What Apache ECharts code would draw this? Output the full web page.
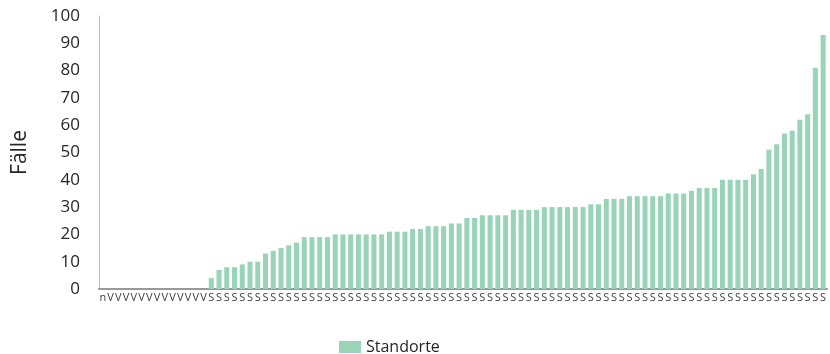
<!DOCTYPE html>
<html>
<head>
<meta charset="utf-8">
<script src="https://cdn.jsdelivr.net/npm/echarts@6/dist/echarts.min.js"></script>
<style>
  html, body { margin: 0; padding: 0; background: #fff; }
  #chart { width: 830px; height: 354px; }
</style>
</head>
<body>
<div id="chart"></div>
<script>
// Kategorien (gekürzte Beschriftungen)
var categories = [
  'n','V','V','V','V','V','V','V','V','V','V','V','V','V',
  'S','S','S','S','S','S','S','S','S','S','S','S','S','S','S','S','S','S','S','S',
  'S','S','S','S','S','S','S','S','S','S','S','S','S','S','S','S','S','S','S','S',
  'S','S','S','S','S','S','S','S','S','S','S','S','S','S','S','S','S','S','S','S',
  'S','S','S','S','S','S','S','S','S','S','S','S','S','S','S','S','S','S','S','S'
];

// Fälle je Standort ('-' = kein Wert)
var faelle = [
  '-','-','-','-','-','-','-','-','-','-','-','-','-','-',
  4, 7, 8, 8, 9, 10, 10, 13, 14, 15, 16, 17, 19, 19, 19, 19, 20, 20, 20, 20,
  20, 20, 20, 21, 21, 21, 22, 22, 23, 23, 23, 24, 24, 26, 26, 27, 27, 27, 27, 29,
  29, 29, 29, 30, 30, 30, 30, 30, 30, 31, 31, 33, 33, 33, 34, 34, 34, 34, 34, 35,
  35, 35, 36, 37, 37, 37, 40, 40, 40, 40, 42, 44, 51, 53, 57, 58, 62, 64, 81, 93
];

var yTicks = { min: 0, max: 100, interval: 10 };

var chart = echarts.init(document.getElementById('chart'));
var option = {
  animation: false,
  textStyle: { fontFamily: 'Open Sans' },
  legend: {
    top: 334,
    left: 334,
    icon: 'rect',
    itemWidth: 22,
    itemHeight: 12,
    itemGap: 12,
    textStyle: { fontSize: 16, color: '#262626', fontFamily: 'Open Sans' },
    data: ['Standorte']
  },
  grid: {
    left: 99,
    right: 3,
    top: 16,
    bottom: 65
  },
  xAxis: {
    type: 'category',
    data: categories,
    axisLine: { lineStyle: { color: '#999999', width: 2 } },
    axisTick: { show: false },
    axisLabel: {
      interval: 0,
      fontSize: 11,
      color: '#404040',
      margin: 3
    }
  },
  yAxis: {
    type: 'value',
    min: yTicks.min,
    max: yTicks.max,
    interval: yTicks.interval,
    name: 'Fälle',
    nameLocation: 'middle',
    nameRotate: 90,
    nameGap: 68,
    nameTextStyle: { fontSize: 21, color: '#262626' },
    axisLine: { show: true, lineStyle: { color: '#bfbfbf', width: 1 } },
    axisTick: { show: false },
    splitLine: { show: false },
    axisLabel: { fontSize: 17, color: '#262626', margin: 19 }
  },
  series: [
    {
      name: 'Standorte',
      type: 'bar',
      data: faelle,
      barCategoryGap: '35%',
      itemStyle: { color: '#99d3b8' }
    }
  ]
};
chart.setOption(option);
</script>
</body>
</html>
